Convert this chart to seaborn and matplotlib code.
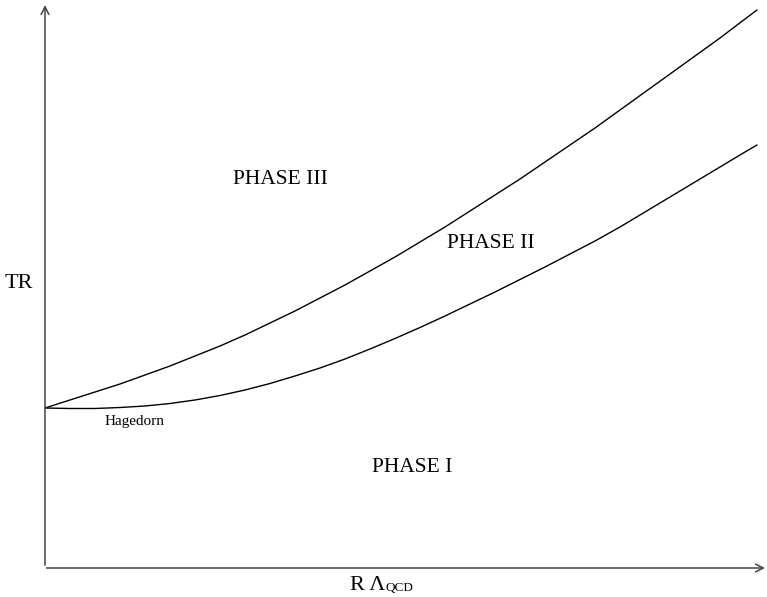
import numpy as np
import pandas as pd
import matplotlib
matplotlib.use("Agg")
import matplotlib.pyplot as plt
import seaborn as sns

# values (x = R Lambda_QCD, y = TR, arbitrary units)
r_lambda = [0, 25, 50, 75, 100, 125, 150, 175, 200, 225, 250, 275, 300, 325, 350,
            375, 400, 425, 450, 475, 500, 525, 550, 575, 600, 625, 650, 675, 700, 712]
upper_curve = [160, 168, 176, 184, 193, 202, 212, 222, 233, 245, 257, 270, 283, 297, 311,
               326, 341, 357, 373, 389, 406, 423, 440, 458, 476, 494, 512, 530, 549, 558]
lower_curve = [160, 159.5, 159.5, 160.5, 162, 164.5, 168, 172.5, 178, 184.5, 192, 200, 209, 219, 229.5,
               240.5, 252, 264, 276, 288.5, 301, 314, 327, 341, 356, 371, 386, 401, 416, 423]

df = pd.DataFrame({
    "x": r_lambda * 2,
    "y": upper_curve + lower_curve,
    "curve": ["upper"] * len(r_lambda) + ["lower"] * len(r_lambda),
})

sns.set_style("white")
plt.rcParams["font.family"] = ["Liberation Serif", "DejaVu Serif"]

W, H = 767, 597
fig = plt.figure(figsize=(W / 100, H / 100), dpi=100)
ax = fig.add_axes([45 / W, 29 / H, 720 / W, 563 / H])

sns.lineplot(data=df, x="x", y="y", hue="curve", palette={"upper": "black", "lower": "black"},
             linewidth=1.0, legend=False, ax=ax, sort=False, estimator=None)

ax.set_xlim(0, 720)
ax.set_ylim(0, 563)
ax.set_xticks([])
ax.set_yticks([])
ax.set_xlabel("")
ax.set_ylabel("")
for s in ax.spines.values():
    s.set_visible(False)

# axis arrows
arrow = dict(arrowstyle="->", color="#444444", lw=1.1, shrinkA=0, shrinkB=0, mutation_scale=14)
ax.annotate("", xy=(0, 1), xytext=(0, 0.005), xycoords="axes fraction", arrowprops=arrow)
ax.annotate("", xy=(1, 0), xytext=(0.002, 0), xycoords="axes fraction", arrowprops=arrow)

txt = dict(color="black", clip_on=False)
ax.text(-26, 285, "TR", fontsize=16, ha="center", va="center", **txt)
ax.text(235, 388, "PHASE III", fontsize=15.5, ha="center", va="center", **txt)
ax.text(446, 325, "PHASE II", fontsize=15.5, ha="center", va="center", **txt)
ax.text(367, 101, "PHASE I", fontsize=15.5, ha="center", va="center", **txt)
ax.text(90, 146, "Hagedorn", fontsize=11, ha="center", va="center", **txt)
ax.text(305, -22, "R \u039b", fontsize=16, ha="left", va="baseline", **txt)
ax.text(341, -23, "QCD", fontsize=9.5, ha="left", va="baseline", **txt)

fig.savefig("out.png", dpi=100, facecolor="white")
